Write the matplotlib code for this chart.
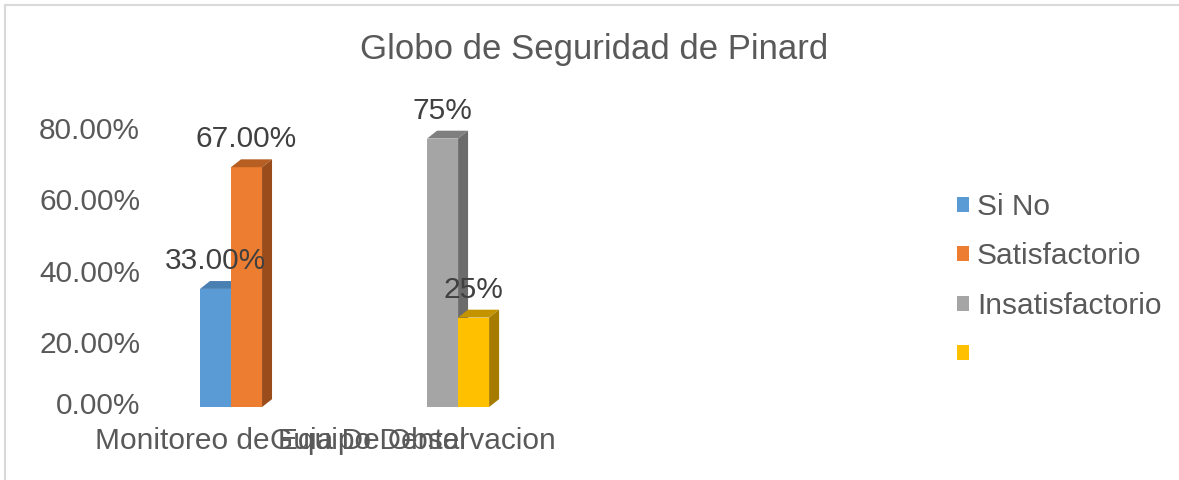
import matplotlib
matplotlib.use('Agg')
import matplotlib.pyplot as plt
import matplotlib.transforms as mtransforms
from matplotlib.patches import Patch, Polygon, Rectangle

#Chart Data
categories = ['Monitoreo de Equipo Dental', 'Guia De Observacion']
series_names = ['Si No', 'Satisfactorio', 'Insatisfactorio', '']
series_values = [33.0, 67.0, 75.0, 25.0]
series_category = [0, 0, 1, 1]
series_labels = ['33.00%', '67.00%', '75%', '25%']
y_ticks = [0, 20, 40, 60, 80]

#Colors (front, top, side)
front = ['#5B9BD5', '#ED7D31', '#A5A5A5', '#FFC000']
top = ['#4A7FB2', '#B75E22', '#7F7F7F', '#C49300']
side = ['#41719C', '#9A4D1B', '#6B6B6B', '#A67C00']

plt.rcParams['font.family'] = ['Liberation Sans', 'DejaVu Sans']

fig = plt.figure(figsize=(11.79, 4.8), dpi=100)
ax = fig.add_axes([0.1272, 0.152, 0.3478, 0.660])

w = 0.1366
dx = 0.044
dy = 2.2

#Drawing 3D-looking columns
for i, v in enumerate(series_values):
    c = series_category[i]
    pos = -0.5 if i % 2 == 0 else 0.5
    x = c + pos * w
    ax.bar(x, v, width=w, color=front[i], zorder=2 + i)
    x0, x1 = x - w / 2, x + w / 2
    ax.add_patch(Polygon([(x0, v), (x0 + dx, v + dy), (x1 + dx, v + dy), (x1, v)],
                         closed=True, facecolor=top[i], edgecolor='none', zorder=2 + i))
    ax.add_patch(Polygon([(x1, 0), (x1 + dx, dy), (x1 + dx, v + dy), (x1, v)],
                         closed=True, facecolor=side[i], edgecolor='none', zorder=2 + i))
    ax.annotate(series_labels[i], (x, v), xytext=(0, 28), textcoords='offset pixels',
                ha='center', va='center', fontsize=21.5, color='#404040', zorder=10)

ax.set_xlim(-0.357, 1.449)
ax.set_ylim(0, 88.5)
for s in ax.spines.values():
    s.set_visible(False)

ax.set_yticks(y_ticks)
ax.set_yticklabels(['%.2f%%' % t for t in y_ticks])
ax.tick_params(axis='y', length=0, pad=7, labelsize=21.5, labelcolor='#595959')
for t, lab in zip(y_ticks, ax.get_yticklabels()):
    shift = 4 if t == 0 else -7
    offset = mtransforms.ScaledTranslation(0, shift / 100, fig.dpi_scale_trans)
    lab.set_transform(lab.get_transform() + offset)

ax.set_xticks([0.22, 0.80])
ax.set_xticklabels(categories)
ax.tick_params(axis='x', length=0, pad=14.5, labelsize=21.5, labelcolor='#595959')

#Title
fig.text(0.504, 1 - 50 / 480, 'Globo de Seguridad de Pinard', ha='center', va='center',
         fontsize=25, color='#595959')

#Legend
handles = [Patch(facecolor=front[i], edgecolor='none') for i in range(len(series_names))]
fig.legend(handles, series_names, loc='upper left', bbox_to_anchor=(957 / 1179, 1 - 193 / 480),
           frameon=False, fontsize=21.5, handlelength=0.4, handleheight=0.4,
           handletextpad=0.27, labelspacing=0.72, borderpad=0, borderaxespad=0,
           labelcolor='#595959')

#Chart border
fig.patches.append(Rectangle((5 / 1179, -0.1), 1.2, 1.1 - 5 / 480, transform=fig.transFigure,
                             fill=False, edgecolor='#D9D9D9', linewidth=1.5))

plt.savefig('out.png', dpi=100)
